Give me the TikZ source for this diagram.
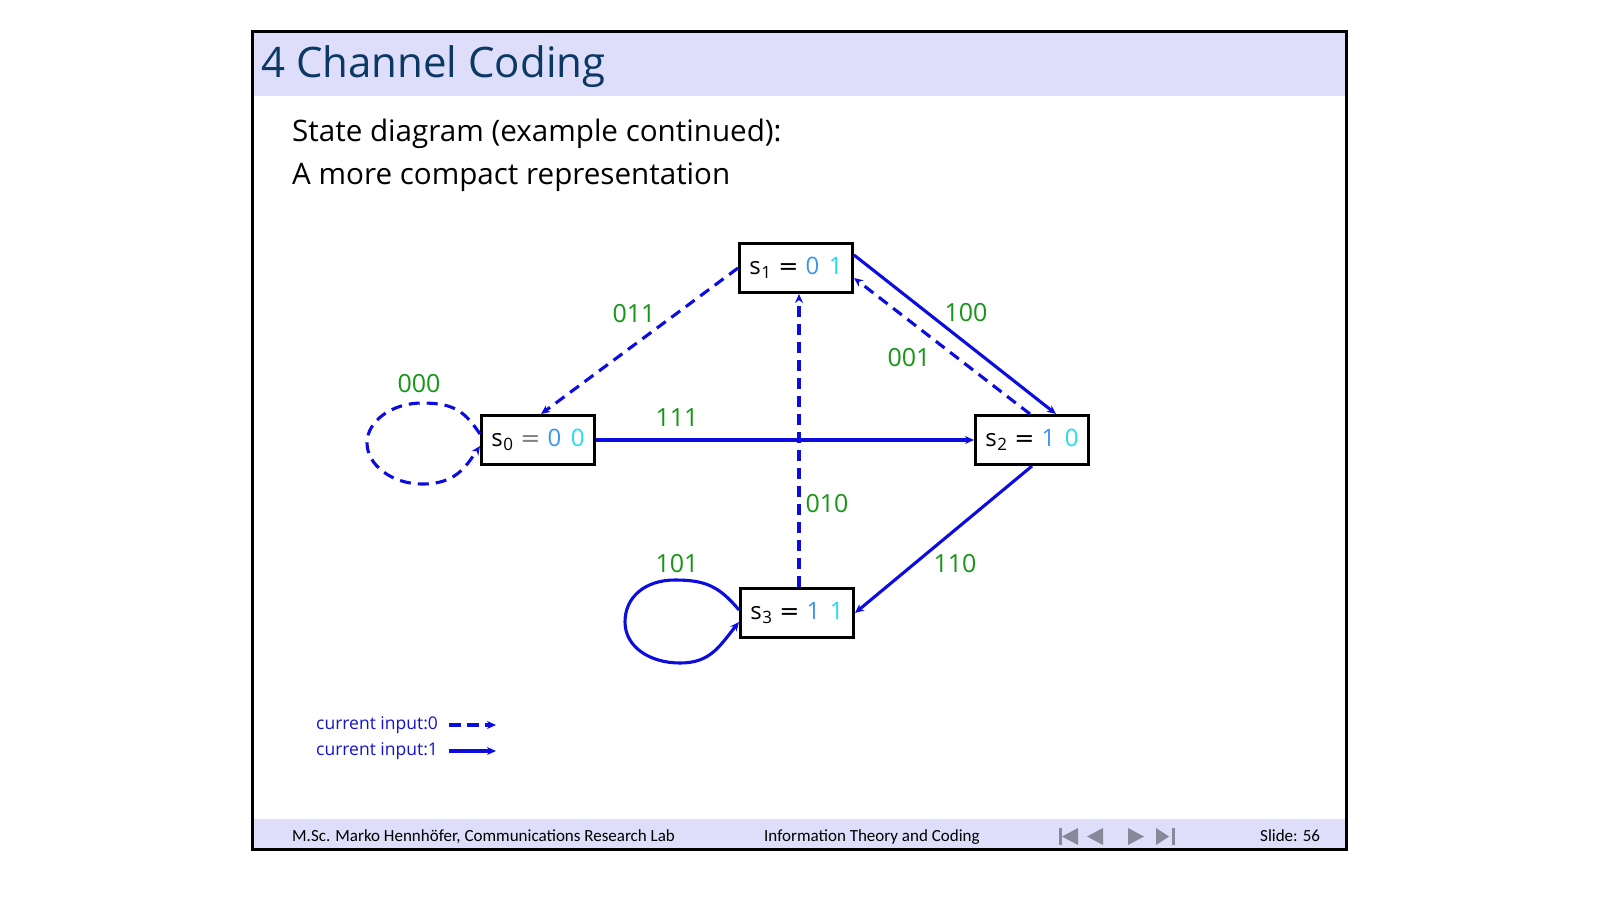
\documentclass[tikz,border=0pt]{standalone}
\usepackage{fontspec}
\setmainfont{Open Sans}
\newfontfamily\footfont{Carlito}
\newfontfamily\eqfont{DejaVu Sans}
\usetikzlibrary{arrows.meta}

\definecolor{hdr}{RGB}{222,222,250}
\definecolor{ttl}{RGB}{12,56,100}
\definecolor{edgeblue}{RGB}{12,12,225}
\definecolor{lblgreen}{RGB}{22,150,22}
\definecolor{bitA}{RGB}{60,150,240}
\definecolor{bitB}{RGB}{30,222,240}
\definecolor{navgray}{RGB}{136,136,152}
\definecolor{legblue}{RGB}{20,20,205}

% state text: s_i = b1 b2
\newcommand{\statetext}[4][black]{s\kern0.5pt\raisebox{-0.35ex}{\fontsize{17}{17}\selectfont #2}\hspace{0.3em}\textcolor{#1}{\eqfont =}\hspace{0.3em}\textcolor{bitA}{#3}\hspace{0.4em}\textcolor{bitB}{#4}}

\tikzset{
  state/.style={draw=black, line width=3pt, fill=white, minimum width=113pt,
    minimum height=49pt, inner sep=0pt, font=\fontsize{24}{24}\selectfont},
  edge/.style={draw=edgeblue, line width=3.1pt, -{Stealth[length=9pt,width=8pt]}},
  zero/.style={dash pattern=on 11pt off 7pt},
  lbl/.style={text=lblgreen, font=\fontsize{25}{25}\selectfont, inner sep=0pt},
  navtri/.style={fill=navgray, draw=none},
  legtext/.style={anchor=west, inner sep=0pt, text=legblue, font=\fontsize{17.5}{17.5}\selectfont},
  foot/.style={anchor=west, inner sep=0pt, font=\footfont\fontsize{17}{17}\selectfont},
}

\begin{document}
\begin{tikzpicture}[x=1pt, y=-1pt]
\useasboundingbox (0,0) rectangle (1600,900);
\fill[white] (0,0) rectangle (1600,900);

% slide frame, header and footer bands
\fill[hdr] (252,31) rectangle (1346,96);
\fill[hdr] (252,819) rectangle (1346,849);
\draw[line width=3pt] (252,31) rectangle (1346,849);

\node[anchor=west, inner sep=0pt, text=ttl, font=\fontsize{42}{42}\selectfont] (title) at (261,67) {4 Channel Coding};
\node[anchor=west, inner sep=0pt, font=\fontsize{29.6}{29.6}\selectfont] (line1) at (292,134) {State diagram (example continued):};
\node[anchor=west, inner sep=0pt, font=\fontsize{29.6}{29.6}\selectfont] (line2) at (292,177) {A more compact representation};

% states
\node[state] (s1) at (796,268) {\statetext{1}{0}{1}};
\node[state] (s0) at (538,440) {\statetext[gray]{0}{0}{0}};
\node[state] (s2) at (1032,440) {\statetext{2}{1}{0}};
\node[state] (s3) at (797,613) {\statetext{3}{1}{1}};

% transitions
\draw[edge, zero] (s1.west) -- ([xshift=3pt]s0.north);
\draw[edge] ([yshift=13pt]s1.east) -- ([xshift=24pt]s2.north);
\draw[edge, zero] ([xshift=-2pt]s2.north) -- ([yshift=-10pt]s1.east);
\draw[edge] (s0.east) -- (s2.west);
\draw[edge, zero] ([xshift=2pt]s3.north) -- ([xshift=3pt]s1.south);
\draw[edge] (s2.south) -- (s3.east);

% self loops
\coordinate (t0) at (422,403);
\coordinate (l0) at (367,443);
\coordinate (b0) at (422,484);
\draw[edge, zero] ([yshift=6pt]s0.west) .. controls +(-15,-22) and +(33,0) .. (t0)
  .. controls +(-30,0) and +(0,-22) .. (l0)
  .. controls +(0,22) and +(-30,0) .. (b0)
  .. controls +(33,0) and +(-15,22) .. ([yshift=-6pt]s0.west);

\coordinate (t3) at (675,580);
\coordinate (l3) at (625,622);
\coordinate (b3) at (680,663);
\draw[edge] ([yshift=3pt]s3.west) .. controls +(-20,-24) and +(30,0) .. (t3)
  .. controls +(-30,0) and +(0,-25) .. (l3)
  .. controls +(0,25) and +(-30,0) .. (b3)
  .. controls +(30,0) and +(-20,25) .. ([yshift=-9pt]s3.west);

% output labels
\node[lbl] (o011) at (634,314) {011};
\node[lbl] (o100) at (966,313) {100};
\node[lbl] (o001) at (909,358) {001};
\node[lbl] (o000) at (419,384) {000};
\node[lbl] (o111) at (677,418) {111};
\node[lbl] (o010) at (827,504) {010};
\node[lbl] (o101) at (677,564) {101};
\node[lbl] (o110) at (955,564) {110};

% legend
\node[legtext] (leg0) at (316,725) {current input:0};
\node[legtext] (leg1) at (316,751) {current input:1};
\coordinate (leg0a) at (449,725);
\coordinate (leg0b) at (496,725);
\coordinate (leg1a) at (449,751);
\coordinate (leg1b) at (496,751);
\draw[edge, dash pattern=on 12pt off 6pt] (leg0a) -- (leg0b);
\draw[edge] (leg1a) -- (leg1b);

% footer
\node[foot] (author) at (292,837) {M.Sc. Marko Hennhöfer, Communications Research Lab};
\node[foot] (course) at (764,837) {Information Theory and Coding};
\node[foot] (slideno) at (1260,836) {Slide: 56};

% navigation symbols
\fill[navtri] (1059,828) rectangle (1062,845);
\fill[navtri] (1062,836.5) -- (1078,828) -- (1078,845) -- cycle;
\fill[navtri] (1087,836.5) -- (1103,828) -- (1103,845) -- cycle;
\fill[navtri] (1128,828) -- (1128,845) -- (1144,836.5) -- cycle;
\fill[navtri] (1156,828) -- (1156,845) -- (1169,836.5) -- cycle;
\fill[navtri] (1172,828) rectangle (1175,845);
\end{tikzpicture}
\end{document}
